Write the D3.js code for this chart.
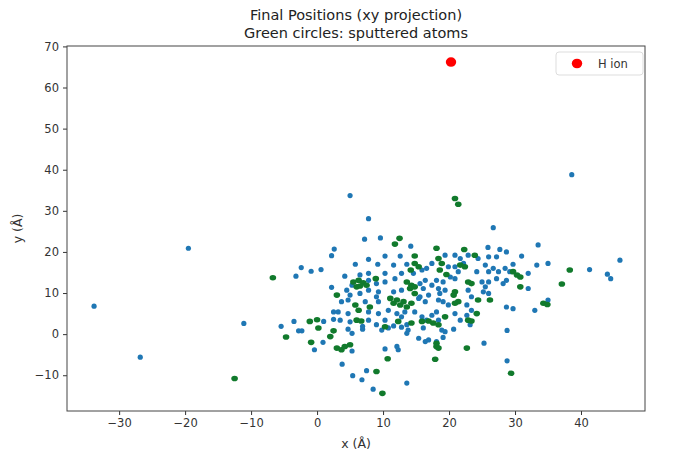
<!DOCTYPE html>
<html>
<head>
<meta charset="utf-8">
<script src="https://cdn.jsdelivr.net/npm/d3@7"></script>
<style>
  body { margin: 0; background: #fff; }
  text { font-family: "DejaVu Sans", sans-serif; }
</style>
</head>
<body>
<div id="d3"></div>
<script>
// final positions of atoms [x, y] in Angstrom
const atoms = [
  // outer / sparse atoms
  [5.0,33.7],[7.8,28.1],[26.7,25.9],[38.6,38.8],[7.2,23.1],[9.6,23.4],
  [2.6,20.7],[2.2,19.1],[-2.4,16.2],[-0.9,15.3],[0.6,15.7],[-3.2,14.1],[2.2,11.4],[2.5,5.4],[2.5,3.6],
  [33.5,21.7],[35.0,17.2],[33.3,16.8],[33.0,5.8],[32.0,14.8],
  [-5.45,1.9],[-3.5,3.1],[-2.8,0.8],[-2.3,0.8],[1.0,3.1],[0.9,-2.0],[-0.4,-3.8],[4.7,1.2],[5.3,0.2],
  [5.3,-4.1],[6.9,1.9],[6.9,1.2],[9.0,2.3],[9.8,1.0],[10.8,1.5],[11.6,2.0],[12.8,1.7],[13.6,0.2],
  [12.3,-3.8],[12.1,-3.0],[10.3,-3.6],[3.8,-7.3],[7.5,-8.9],[5.4,-10.1],[6.8,-11.1],[8.5,-13.4],[13.6,-11.9],
  [13.6,2.3],[13.8,1.0],[15.4,-1.0],[16.4,-1.8],[16.9,-1.4],[16.1,1.5],[18.1,-1.8],[18.9,1.0],[19.4,0.6],
  [19.1,-0.8],[20.7,1.2],[23.2,2.3],[25.3,-2.2],[28.8,0.9],[28.8,-6.5],
  [41.3,15.7],[44.0,14.6],[44.5,13.5],[45.9,18.0],[35.0,8.3],
  [-33.8,6.8],[-26.8,-5.6],[-19.5,20.9],[-11.1,2.6],
  // dense core, left half
  [14.2,21.4],[12.6,19.0],[10.3,19.0],[7.8,18.2],[5.8,17.0],[9.2,17.0],[11.6,16.8],[13.6,17.0],
  [16.6,16.0],[15.9,15.6],[17.4,17.2],[14.6,14.8],[4.2,14.1],[6.5,14.4],[7.8,14.8],[10.3,14.8],
  [11.8,13.5],[12.8,14.8],[5.3,11.9],[7.8,13.1],[9.0,12.3],[10.3,12.7],[15.6,12.3],[16.4,13.1],
  [16.1,11.1],[17.4,11.9],[4.5,10.7],[5.0,9.5],[6.5,9.9],[7.8,10.7],[9.3,10.3],[11.6,10.3],[12.8,10.7],
  [15.6,9.1],[16.9,9.5],[3.7,7.9],[4.7,8.3],[7.3,7.9],[9.3,7.9],[9.0,9.1],[15.4,8.7],[16.4,7.9],
  [3.2,5.4],[4.7,5.0],[3.5,3.4],[5.0,3.0],[7.8,5.4],[7.8,3.4],[9.3,5.0],[10.3,3.4],[10.8,5.8],
  [12.1,5.0],[12.8,4.2],[13.3,5.4],[14.8,5.4],[15.9,4.2],[16.6,3.4],[17.4,4.6],
  // dense core, right half
  [25.9,21.1],[27.7,20.6],[28.7,20.0],[19.4,19.2],[20.9,19.2],[21.7,18.4],[22.9,19.2],[24.4,18.4],
  [26.0,18.8],[27.2,18.8],[19.9,16.4],[20.9,16.4],[21.4,15.2],[22.2,17.2],[24.2,15.2],[25.5,16.8],
  [26.0,15.2],[26.7,16.0],[27.5,15.2],[28.5,16.0],[29.2,15.2],[29.7,17.0],[31.0,19.0],[18.1,13.1],
  [19.1,12.7],[20.2,13.9],[20.9,13.5],[25.0,12.7],[25.5,11.5],[26.0,12.7],[25.2,10.3],[26.0,9.9],
  [27.2,13.5],[28.2,12.3],[28.7,13.1],[32.0,11.1],[18.4,11.1],[18.6,9.9],[19.4,10.7],[22.9,10.7],
  [23.4,9.1],[18.4,8.3],[19.1,7.9],[19.9,7.1],[22.7,7.1],[23.4,5.8],[28.7,6.6],[29.7,6.2],[18.1,5.4],
  [18.4,3.4],[20.9,5.0],[21.7,3.4],[22.7,4.6]
];

// sputtered atoms, drawn on top in green
const sputtered = [
  [20.9,33.0],[21.4,31.6],[12.5,23.3],[-6.7,13.7],[34.3,7.5],[-4.7,-0.7],[-1.1,3.1],[0.0,3.5],[0.2,1.5],
  [-0.9,-2.0],[2.0,-0.6],[2.5,0.8],[3.0,-3.4],[3.7,-3.8],[4.2,-3.0],[5.0,-2.6],[10.3,1.8],[12.3,3.1],
  [10.7,-6.0],[9.0,-9.1],[9.9,-14.4],[14.3,2.7],[15.9,3.1],[16.9,3.2],[17.6,2.7],[18.4,2.3],[18.1,-2.2],
  [18.1,-3.0],[18.4,-3.4],[17.9,-6.1],[22.7,-3.4],[23.4,3.2],[29.4,-9.5],[38.3,15.6],[37.1,12.2],
  [34.9,7.2],[-12.5,-10.8],
  [11.8,21.9],[14.8,19.0],[14.8,17.2],[15.4,16.4],[14.2,15.6],[5.5,12.7],[6.3,13.1],[7.0,12.5],
  [6.5,11.7],[7.5,11.9],[6.0,11.5],[8.9,13.5],[13.6,12.7],[14.3,11.9],[14.8,11.5],[14.1,11.1],[14.8,9.9],
  [3.0,9.5],[5.8,7.1],[6.3,5.8],[8.0,6.6],[11.1,8.7],[11.6,7.5],[12.1,8.3],[12.6,7.1],[13.1,7.9],
  [13.6,6.6],[14.3,7.5],[6.0,3.4],[6.7,3.2],
  [18.1,20.9],[22.3,20.6],[23.9,19.2],[18.4,18.4],[18.9,17.2],[18.6,15.6],[21.7,16.8],[22.4,16.4],
  [19.6,14.5],[29.7,15.2],[30.3,14.4],[22.9,12.7],[23.4,12.3],[30.8,13.9],[30.8,11.5],[20.9,10.3],
  [20.7,9.5],[21.4,7.9],[20.9,7.5],[24.4,8.3],[26.2,8.3],[19.4,4.2],[22.9,3.4],[24.2,5.0]
];

const ion = [[20.3, 66.2]];

const xTicks = [-30, -20, -10, 0, 10, 20, 30, 40];
const yTicks = [-10, 0, 10, 20, 30, 40, 50, 60, 70];

const width = 673, height = 466;
const margin = { top: 46, right: 28, bottom: 55, left: 67 };

function drawSVG() {
    const svg = d3
        .select("#d3")
        .append("svg")
        .attr("width", width)
        .attr("height", height);

    const x = d3.scaleLinear()
        .domain([-37.9, 49.7])
        .range([margin.left, width - margin.right]);

    const y = d3.scaleLinear()
        .domain([-18.7, 70.1])
        .range([height - margin.bottom, margin.top]);

    const fmt = d => d < 0 ? "\u2212" + Math.abs(d) : d;

    // axes
    const xAxis = svg.append("g")
        .attr("transform", `translate(0, ${height - margin.bottom})`)
        .call(d3.axisBottom(x).tickValues(xTicks).tickSize(4).tickPadding(4).tickFormat(fmt));

    const yAxis = svg.append("g")
        .attr("transform", `translate(${margin.left}, 0)`)
        .call(d3.axisLeft(y).tickValues(yTicks).tickSize(4).tickPadding(4).tickFormat(fmt));

    [xAxis, yAxis].forEach(g => {
        g.select(".domain").remove();
        g.selectAll("line").style("stroke", "#333");
        g.selectAll("text")
            .style("font-size", "11.5px")
            .style("fill", "#333")
            .style("font-family", "DejaVu Sans, sans-serif");
    });

    // points
    svg.append("g")
        .selectAll("circle")
        .data(atoms)
        .join("circle")
        .attr("cx", d => x(d[0]))
        .attr("cy", d => y(d[1]))
        .attr("r", 2.6)
        .style("fill", "#1f77b4");

    svg.append("g")
        .selectAll("ellipse")
        .data(sputtered)
        .join("ellipse")
        .attr("cx", d => x(d[0]))
        .attr("cy", d => y(d[1]))
        .attr("rx", 3.3)
        .attr("ry", 2.8)
        .style("fill", "#117a2c");

    svg.append("g")
        .selectAll("ellipse")
        .data(ion)
        .join("ellipse")
        .attr("cx", d => x(d[0]))
        .attr("cy", d => y(d[1]))
        .attr("rx", 5.2)
        .attr("ry", 4.8)
        .style("fill", "#ff0000");

    // frame
    svg.append("rect")
        .attr("x", margin.left)
        .attr("y", margin.top)
        .attr("width", width - margin.left - margin.right)
        .attr("height", height - margin.top - margin.bottom)
        .style("fill", "none")
        .style("stroke", "#444")
        .style("stroke-width", 1);

    // legend
    const legend = svg.append("g").attr("transform", "translate(556, 52)");
    legend.append("rect")
        .attr("width", 87).attr("height", 23)
        .attr("rx", 3)
        .style("fill", "#fff")
        .style("stroke", "#ddd");
    legend.append("ellipse")
        .attr("cx", 21).attr("cy", 11.5)
        .attr("rx", 5.2).attr("ry", 4.8)
        .style("fill", "#ff0000");
    legend.append("text")
        .attr("x", 42).attr("y", 15.5)
        .style("font-size", "11.5px")
        .style("fill", "#333")
        .text("H ion");

    // titles
    const cx = (margin.left + width - margin.right) / 2;
    svg.append("text")
        .attr("x", cx).attr("y", 20)
        .attr("text-anchor", "middle")
        .style("font-size", "14.5px")
        .style("fill", "#222")
        .text("Final Positions (xy projection)");
    svg.append("text")
        .attr("x", cx).attr("y", 38)
        .attr("text-anchor", "middle")
        .style("font-size", "14.5px")
        .style("fill", "#222")
        .text("Green circles: sputtered atoms");

    svg.append("text")
        .attr("x", cx).attr("y", 448)
        .attr("text-anchor", "middle")
        .style("font-size", "12.5px")
        .style("fill", "#333")
        .text("x (Å)");
    svg.append("text")
        .attr("transform", `translate(22, ${(margin.top + height - margin.bottom) / 2}) rotate(-90)`)
        .attr("text-anchor", "middle")
        .style("font-size", "12.5px")
        .style("fill", "#333")
        .text("y (Å)");
}

drawSVG();
</script>
</body>
</html>
